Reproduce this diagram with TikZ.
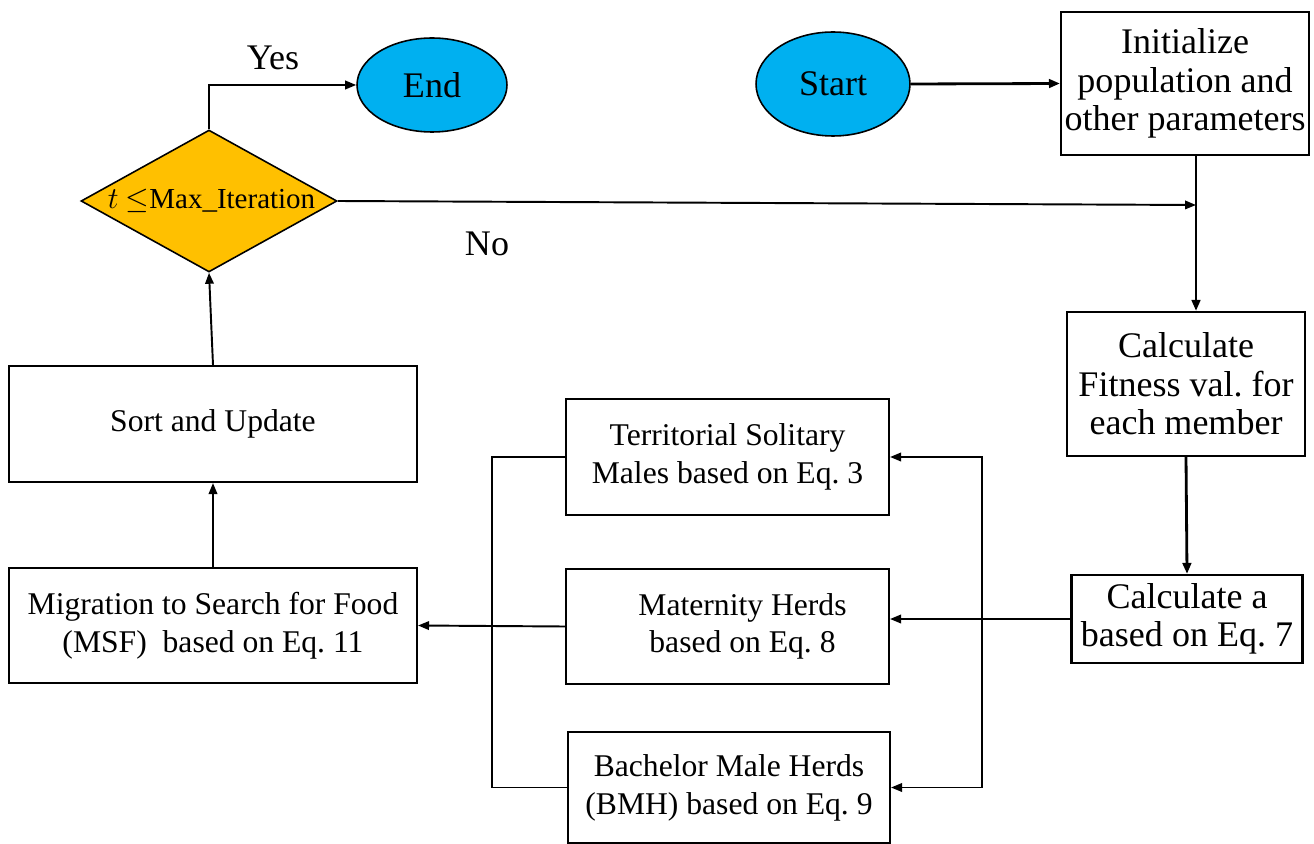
\documentclass[tikz,border=0pt]{standalone}
\usepackage{fontspec}
\setmainfont{Liberation Serif}
\usetikzlibrary{shapes.geometric,arrows.meta}
\definecolor{skyb}{HTML}{00B0F0}
\definecolor{gold}{HTML}{FFC000}
\frenchspacing
\tikzset{
  fs/.style={font=\fontsize{18}{21.5}\selectfont},
  fc/.style={font=\fontsize{20.5}{22}\selectfont},
  box/.style={draw, line width=1.2pt, rectangle, align=center, inner sep=0pt},
  oval/.style={draw, line width=0.9pt, ellipse, fill=skyb, inner sep=0pt, fc},
  cond/.style={draw, line width=0.9pt, diamond, fill=gold, inner sep=0pt, font=\fontsize{16.5}{20}\selectfont},
  arr/.style={line width=1.1pt, -{Triangle[length=0.22cm,width=0.17cm]}},
  ln/.style={line width=1.1pt},
  thk/.style={line width=1.6pt, -{Triangle[length=0.22cm,width=0.17cm]}},
}
\begin{document}
\begin{tikzpicture}[x=0.02cm,y=-0.02cm]
\useasboundingbox (0,0) rectangle (1314,844);
% nodes
\node[oval, minimum width=3.0cm, minimum height=1.88cm] (end) at (432,85) {End};
\node[oval, minimum width=3.08cm, minimum height=2.08cm] (start) at (833,84) {Start};
\node[box, fc, minimum width=4.96cm, minimum height=2.86cm] (init) at (1185,83.5) {Initialize\\population and\\other parameters};
\node[cond, minimum width=5.12cm, minimum height=2.84cm] (dia) at (209,201) {\hspace*{0.1cm}\makebox[0pt]{$t$ $\leq$Max\_Iteration}};
\node[box, fc, minimum width=4.76cm, minimum height=2.88cm] (fit) at (1186,384) {Calculate\\Fitness val. for\\each member};
\node[box, fc, minimum width=4.62cm, minimum height=1.76cm] (calca) at (1187,619) {Calculate a\\based on Eq. 7};
\node[box, fs, minimum width=6.46cm, minimum height=2.32cm] (terr) at (727.5,457) {Territorial Solitary\\Males based on Eq. 3};
\node[box, fs, minimum width=6.46cm, minimum height=2.3cm] (mat) at (727.5,626.5) {\hspace*{0.6cm}Maternity Herds\\\hspace*{0.6cm}based on Eq. 8};
\node[box, fs, minimum width=6.44cm, minimum height=2.22cm] (bach) at (729,787.5) {Bachelor Male Herds\\(BMH) based on Eq. 9};
\node[box, fs, minimum width=8.16cm, minimum height=2.3cm] (msf) at (213,625.5) {Migration to Search for Food\\(MSF)~ based on Eq. 11};
\node[box, fs, minimum width=8.16cm, minimum height=2.32cm] (sort) at (213,424) {Sort and Update};
\node[fc] (yes) at (273,58) {Yes};
\node[fc] (no) at (487,244) {No};
% junction coordinates
\coordinate (jn) at (1196,205);
\coordinate (jr) at (982,619);
\coordinate (jl) at (492,626);
% connectors
\draw[thk] (start.east) -- (init.west);
\draw[thk] (init.south -| jn) -- (fit.north -| jn);
\draw[arr] (dia.east) -- (jn);
\draw[arr] (dia.north) |- (end.west);
\draw[thk] (fit.south) -- (calca.north);
\draw[ln] (calca.west) -- (jr);
\draw[arr] (jr) -- (mat.east |- jr);
\draw[arr] (jr) |- (terr.east);
\draw[arr] (jr) |- (bach.east);
\draw[ln] (terr.west) -| (jl);
\draw[ln] (bach.west) -| (jl);
\draw[arr] (mat.west) -- (msf.east);
\draw[arr] (msf.north) -- (sort.south);
\draw[arr] (sort.north) -- (dia.south);
\end{tikzpicture}
\end{document}
